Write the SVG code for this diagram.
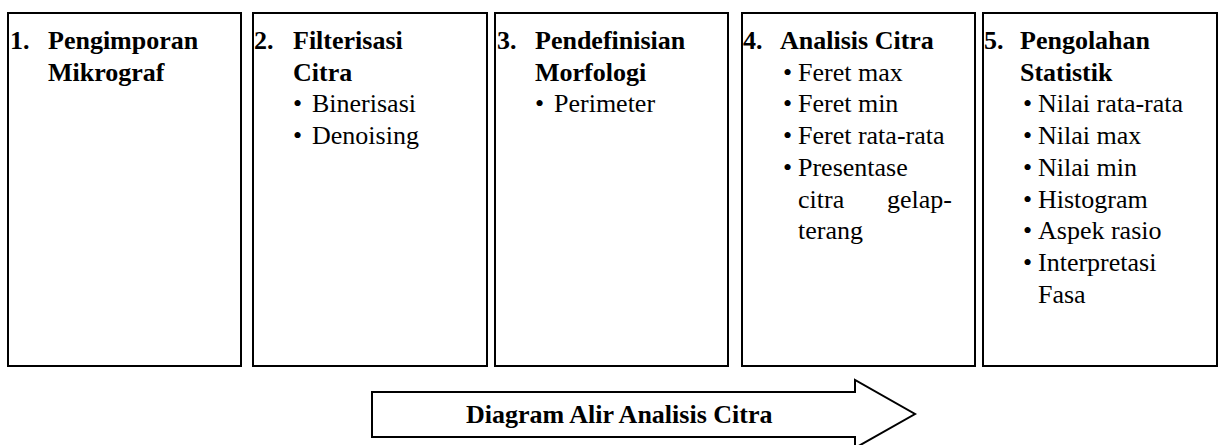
<svg xmlns="http://www.w3.org/2000/svg" width="1219" height="445" viewBox="0 0 1219 445">
<style>
.box{fill:#fff;stroke:#000;stroke-width:2}
.h{font-family:'Times New Roman','Liberation Serif',Times,serif;font-size:26px;font-weight:bold;fill:#000}
.t{font-family:'Times New Roman','Liberation Serif',Times,serif;font-size:26px;fill:#000}
.arrow{fill:#fff;stroke:#000;stroke-width:2;stroke-linejoin:miter}
</style>
<rect width="1219" height="445" fill="#fff"/>
<g id="node1">
<rect class="box" x="8" y="13" width="233" height="353"/>
<text class="h" x="10" y="49">1.</text>
<text class="h" x="48" y="49">Pengimporan</text>
<text class="h" x="48" y="80.7">Mikrograf</text>
</g>
<g id="node2">
<rect class="box" x="253" y="13" width="234" height="353"/>
<text class="h" x="254" y="49">2.</text>
<text class="h" x="293" y="49">Filterisasi</text>
<text class="h" x="293" y="80.7">Citra</text>
<text class="t" x="293" y="112.4">•</text><text class="t" x="312" y="112.4">Binerisasi</text>
<text class="t" x="293" y="144.1">•</text><text class="t" x="312" y="144.1">Denoising</text>
</g>
<g id="node3">
<rect class="box" x="495" y="13" width="233" height="353"/>
<text class="h" x="497" y="49">3.</text>
<text class="h" x="535" y="49">Pendefinisian</text>
<text class="h" x="535" y="80.7">Morfologi</text>
<text class="t" x="535" y="112.4">•</text><text class="t" x="554" y="112.4">Perimeter</text>
</g>
<g id="node4">
<rect class="box" x="742" y="13" width="233" height="353"/>
<text class="h" x="743" y="49">4.</text>
<text class="h" x="780" y="49">Analisis Citra</text>
<text class="t" x="783" y="80.7">•</text><text class="t" x="798" y="80.7">Feret max</text>
<text class="t" x="783" y="112.4">•</text><text class="t" x="798" y="112.4">Feret min</text>
<text class="t" x="783" y="144.1">•</text><text class="t" x="798" y="144.1">Feret rata-rata</text>
<text class="t" x="783" y="175.8">•</text><text class="t" x="798" y="175.8">Presentase</text>
<text class="t" x="798" y="207.5">citra</text><text class="t" x="952" y="207.5" text-anchor="end">gelap-</text>
<text class="t" x="798" y="239.2">terang</text>
</g>
<g id="node5">
<rect class="box" x="983" y="13" width="234" height="353"/>
<text class="h" x="984" y="49">5.</text>
<text class="h" x="1020" y="49">Pengolahan</text>
<text class="h" x="1020" y="80.7">Statistik</text>
<text class="t" x="1023" y="112.4">•</text><text class="t" x="1038" y="112.4">Nilai rata-rata</text>
<text class="t" x="1023" y="144.1">•</text><text class="t" x="1038" y="144.1">Nilai max</text>
<text class="t" x="1023" y="175.8">•</text><text class="t" x="1038" y="175.8">Nilai min</text>
<text class="t" x="1023" y="207.5">•</text><text class="t" x="1038" y="207.5">Histogram</text>
<text class="t" x="1023" y="239.2">•</text><text class="t" x="1038" y="239.2">Aspek rasio</text>
<text class="t" x="1023" y="270.9">•</text><text class="t" x="1038" y="270.9">Interpretasi</text>
<text class="t" x="1038" y="302.6">Fasa</text>
</g>
<g id="connectors">
<path class="arrow" d="M372,392 H855 V380 L915,414 L855,448 V437 H372 Z"/>
<text class="h" x="466" y="423">Diagram Alir Analisis Citra</text>
</g>
</svg>
